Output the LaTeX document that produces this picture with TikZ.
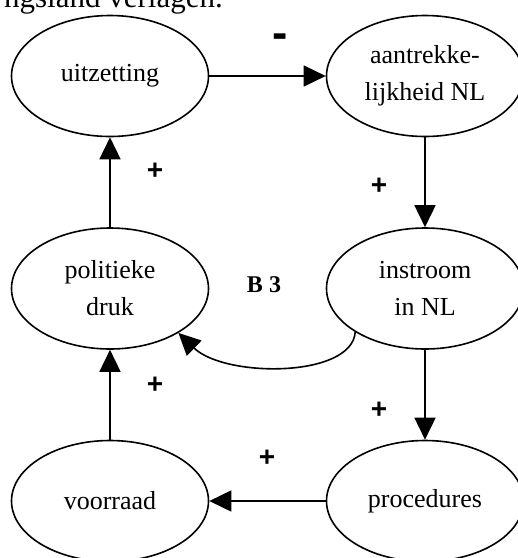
\documentclass[tikz,border=0pt]{standalone}
\usepackage{fontspec}
\setmainfont{Liberation Serif}
\newfontfamily\signfont{Liberation Sans}
\usetikzlibrary{arrows.meta,shapes.geometric}
\begin{document}
\begin{tikzpicture}[x=1pt,y=-1pt,
  factor/.style={draw,ellipse,line width=1.6pt,minimum width=197pt,minimum height=121pt,
    inner sep=0pt,align=center,font=\fontsize{26}{37}\selectfont},
  link/.style={line width=1.6pt,-{Triangle[length=22pt,width=21pt]}},
  sign/.style={font=\signfont\bfseries\fontsize{28}{28}\selectfont,inner sep=0pt},
  minus/.style={font=\signfont\bfseries\fontsize{46}{46}\selectfont,inner sep=0pt,anchor=base},
  loopname/.style={font=\bfseries\fontsize{24}{24}\selectfont,inner sep=0pt},
  textline/.style={font=\fontsize{31}{31}\selectfont,inner sep=0pt,anchor=base east}]
\useasboundingbox (0,0) rectangle (518,558);
\clip (0,0) rectangle (518,558);

% line of running text above the diagram
\node[textline] (head) at (223,7) {ngsland verlagen.};

% factors of the loop
\node[factor] (uit) at (110,76)    {uitzetting};
\node[factor] (aan) at (425,76)    {aantrekke-\\lijkheid NL};
\node[factor] (pol) at (110,288.5) {politieke\\druk};
\node[factor] (ins) at (425,288.5) {instroom\\in NL};
\node[factor] (voo) at (110,501)   {voorraad};
\node[factor] (pro) at (425,501)   {procedures};

% causal links
\draw[link] (uit.east)  -- (aan.west);
\draw[link] (aan.south) -- (ins.north);
\draw[link] (ins.south) -- (pro.north);
\draw[link] (pro.west)  -- (voo.east);
\draw[link] (voo.north) -- (pol.south);
\draw[link] (pol.north) -- (uit.south);
\draw[link] (ins.212) .. controls (352,378) and (225,378) .. (pol.327);

% polarity signs
\node[minus] (s1) at (280,48) {-};
\node[sign] (s2) at (155,171) {+};
\node[sign] (s3) at (379,186) {+};
\node[sign] (s4) at (155,385) {+};
\node[sign] (s5) at (379,410) {+};
\node[sign] (s6) at (267,458) {+};

% loop label
\node[loopname] (b3) at (264,285) {B 3};
\end{tikzpicture}
\end{document}
